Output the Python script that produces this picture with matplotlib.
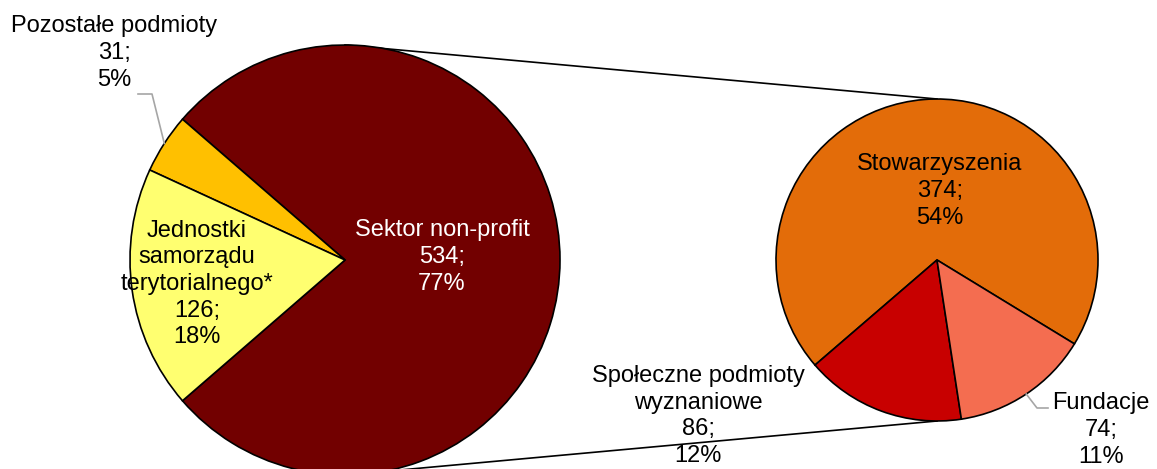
import numpy as np
import matplotlib.pyplot as plt

plt.rcParams['font.family'] = ['Liberation Sans', 'DejaVu Sans']

# dane: wykres główny
main_labels = ['Sektor non-profit', 'Pozostałe podmioty', 'Jednostki\nsamorządu\nterytorialnego*']
main_values = [534, 31, 126]
main_pct = [77, 5, 18]
main_colors = ['#720000', '#FFC000', '#FFFF70']

# dane: rozbicie sektora non-profit
sub_labels = ['Stowarzyszenia', 'Społeczne podmioty\nwyznaniowe', 'Fundacje']
sub_values = [374, 86, 74]
sub_pct = [54, 12, 11]
sub_colors = ['#E36C09', '#C80000', '#F46D50']

total = sum(main_values)

def lab(name, v, p):
    return '%s\n%d;\n%d%%' % (name, v, p)

W, H = 1157, 469
fig = plt.figure(figsize=(W / 100, H / 100), dpi=100)
ax = fig.add_axes([0, 0, 1, 1])

c1, r1 = (345, 209), 215
c2, r2 = (937, 209), 161

start1 = -180 * main_values[0] / total
start2 = -31.4
wp = dict(edgecolor='black', linewidth=1.2)
w1, _ = ax.pie(main_values, colors=main_colors, startangle=start1, center=c1,
               radius=r1, wedgeprops=wp, frame=True)
w2, _ = ax.pie(sub_values, colors=sub_colors, startangle=start2, center=c2,
               radius=r2, wedgeprops=wp, frame=True)

# linie łączące
ax.plot([c1[0], c2[0]], [c1[1] + r1, c2[1] + r2], color='black', lw=1.2, zorder=0)
ax.plot([c1[0], c2[0]], [c1[1] - r1, c2[1] - r2], color='black', lw=1.2, zorder=0)

fs = 17
ls = 1.27
ax.text(442, 212, lab(main_labels[0], main_values[0], main_pct[0]), color='white',
        fontsize=fs, ha='center', va='center', linespacing=ls)
ax.text(197, 185, lab(main_labels[2], main_values[2], main_pct[2]), color='black',
        fontsize=fs, ha='center', va='center', linespacing=ls)
ax.text(114, 416, lab(main_labels[1], main_values[1], main_pct[1]), color='black',
        fontsize=fs, ha='center', va='center', linespacing=ls)
ax.text(940, 278, lab(sub_labels[0], sub_values[0], sub_pct[0]), color='black',
        fontsize=fs, ha='center', va='center', linespacing=ls)
ax.text(698, 53, lab(sub_labels[1], sub_values[1], sub_pct[1]), color='black',
        fontsize=fs, ha='center', va='center', linespacing=ls)
ax.text(1101, 39, lab(sub_labels[2], sub_values[2], sub_pct[2]), color='black',
        fontsize=fs, ha='center', va='center', linespacing=ls)

# linie odniesienia
w = w1[1]
a = np.deg2rad((w.theta1 + w.theta2) / 2)
x0, y0 = c1[0] + r1 * np.cos(a), c1[1] + r1 * np.sin(a)
ax.plot([x0, 152, 138], [y0, 375, 375], color='#A6A6A6', lw=1.2)
w = w2[2]
a = np.deg2rad((w.theta1 + w.theta2) / 2)
x0, y0 = c2[0] + r2 * np.cos(a), c2[1] + r2 * np.sin(a)
ax.plot([x0, 1037, 1048], [y0, 61, 61], color='#A6A6A6', lw=1.2)

ax.set_xlim(0, W)
ax.set_ylim(0, H)
ax.set_aspect('equal')
ax.axis('off')

fig.savefig('out.png', dpi=100)
